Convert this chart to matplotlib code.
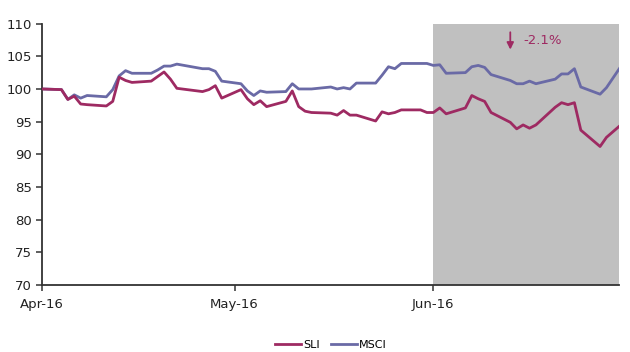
import matplotlib

matplotlib.use("Agg")
import matplotlib.dates as mdates
import matplotlib.pyplot as plt
import pandas as pd

dates = [
    "2016-04-01", "2016-04-04", "2016-04-05", "2016-04-06", "2016-04-07", "2016-04-08",
    "2016-04-11", "2016-04-12", "2016-04-13", "2016-04-14", "2016-04-15",
    "2016-04-18", "2016-04-19", "2016-04-20", "2016-04-21", "2016-04-22",
    "2016-04-26", "2016-04-27", "2016-04-28", "2016-04-29",
    "2016-05-02", "2016-05-03", "2016-05-04", "2016-05-05", "2016-05-06",
    "2016-05-09", "2016-05-10", "2016-05-11", "2016-05-12", "2016-05-13",
    "2016-05-16", "2016-05-17", "2016-05-18", "2016-05-19", "2016-05-20",
    "2016-05-23", "2016-05-24", "2016-05-25", "2016-05-26", "2016-05-27",
    "2016-05-30", "2016-05-31",
    "2016-06-01", "2016-06-02", "2016-06-03",
    "2016-06-06", "2016-06-07", "2016-06-08", "2016-06-09", "2016-06-10",
    "2016-06-13", "2016-06-14", "2016-06-15", "2016-06-16", "2016-06-17",
    "2016-06-20", "2016-06-21", "2016-06-22", "2016-06-23", "2016-06-24",
    "2016-06-27", "2016-06-28", "2016-06-30",
]

sli = [
    100.0, 99.9, 98.4, 98.9, 97.7, 97.6, 97.4, 98.1, 101.8, 101.3, 101.0,
    101.2, 101.9, 102.6, 101.5, 100.1, 99.6, 99.9, 100.5, 98.6,
    99.9, 98.5, 97.6, 98.2, 97.3, 98.1, 99.7, 97.3, 96.6, 96.4, 96.3,
    96.0, 96.7, 96.0, 96.0, 95.1, 96.5, 96.2, 96.4, 96.8, 96.8, 96.4,
    96.4, 97.1, 96.2, 97.1, 99.0, 98.5, 98.1, 96.4, 94.9, 93.9, 94.5,
    94.0, 94.5, 97.2, 97.9, 97.6, 97.9, 93.7, 91.2, 92.6, 94.3,
]

msci = [
    100.0, 99.9, 98.4, 99.1, 98.6, 99.0, 98.8, 99.9, 102.0, 102.8, 102.4,
    102.4, 102.9, 103.5, 103.5, 103.8, 103.1, 103.1, 102.7, 101.2,
    100.8, 99.7, 99.0, 99.7, 99.5, 99.6, 100.8, 100.0, 100.0, 100.0, 100.3,
    100.0, 100.2, 100.0, 100.9, 100.9, 102.1, 103.4, 103.1, 103.9, 103.9, 103.9,
    103.6, 103.7, 102.4, 102.5, 103.4, 103.6, 103.3, 102.2, 101.3, 100.8, 100.8,
    101.2, 100.8, 101.5, 102.3, 102.3, 103.1, 100.3, 99.2, 100.2, 103.1,
]

shade_start = "2016-06-01"
change_label = "-2.1%"

SLI_COLOR = "#9e2a62"
MSCI_COLOR = "#6a6aa6"

plt.rcParams["font.family"] = ["DejaVu Sans"]

df = pd.DataFrame({"date": pd.to_datetime(dates), "SLI": sli, "MSCI": msci})

fig = plt.figure(figsize=(6.3, 3.52), dpi=100)
ax = fig.add_axes([0.067, 0.19, 0.916, 0.743])

ax.axvspan(pd.Timestamp(shade_start), df["date"].iloc[-1], color="#c0c0c0", lw=0, zorder=0)
ax.plot(df["date"], df["SLI"], color=SLI_COLOR, lw=2.0, label="SLI", zorder=3)
ax.plot(df["date"], df["MSCI"], color=MSCI_COLOR, lw=2.0, label="MSCI", zorder=2)

# arrow + text marking the SLI drop inside the shaded window
arrow_x = pd.Timestamp("2016-06-13")
ax.annotate("", xy=(arrow_x, 105.6), xytext=(arrow_x, 109.1),
            arrowprops=dict(arrowstyle="-|>", color=SLI_COLOR, lw=1.3, mutation_scale=10))
ax.text(pd.Timestamp("2016-06-15"), 107.4, change_label, color=SLI_COLOR,
        fontsize=9.5, va="center", ha="left")

ax.set_xlim(df["date"].iloc[0], df["date"].iloc[-1])
ax.set_ylim(70, 110)
ax.set_yticks(range(70, 111, 5))
ax.xaxis.set_major_locator(mdates.MonthLocator())
ax.xaxis.set_major_formatter(mdates.DateFormatter("%b-%y"))

for side in ("top", "right"):
    ax.spines[side].set_visible(False)
for side in ("left", "bottom"):
    ax.spines[side].set_color("#333333")
    ax.spines[side].set_linewidth(1.3)
ax.tick_params(axis="both", direction="out", length=4, width=1.1, color="#333333",
               labelsize=9.5, labelcolor="#222222")
ax.tick_params(axis="x", pad=5)

ax.legend(loc="upper center", bbox_to_anchor=(0.5, -0.17), ncol=2, frameon=False,
          fontsize=8, handlelength=2.4, handletextpad=0.15, columnspacing=1.0)

fig.savefig("out.png", dpi=100)
